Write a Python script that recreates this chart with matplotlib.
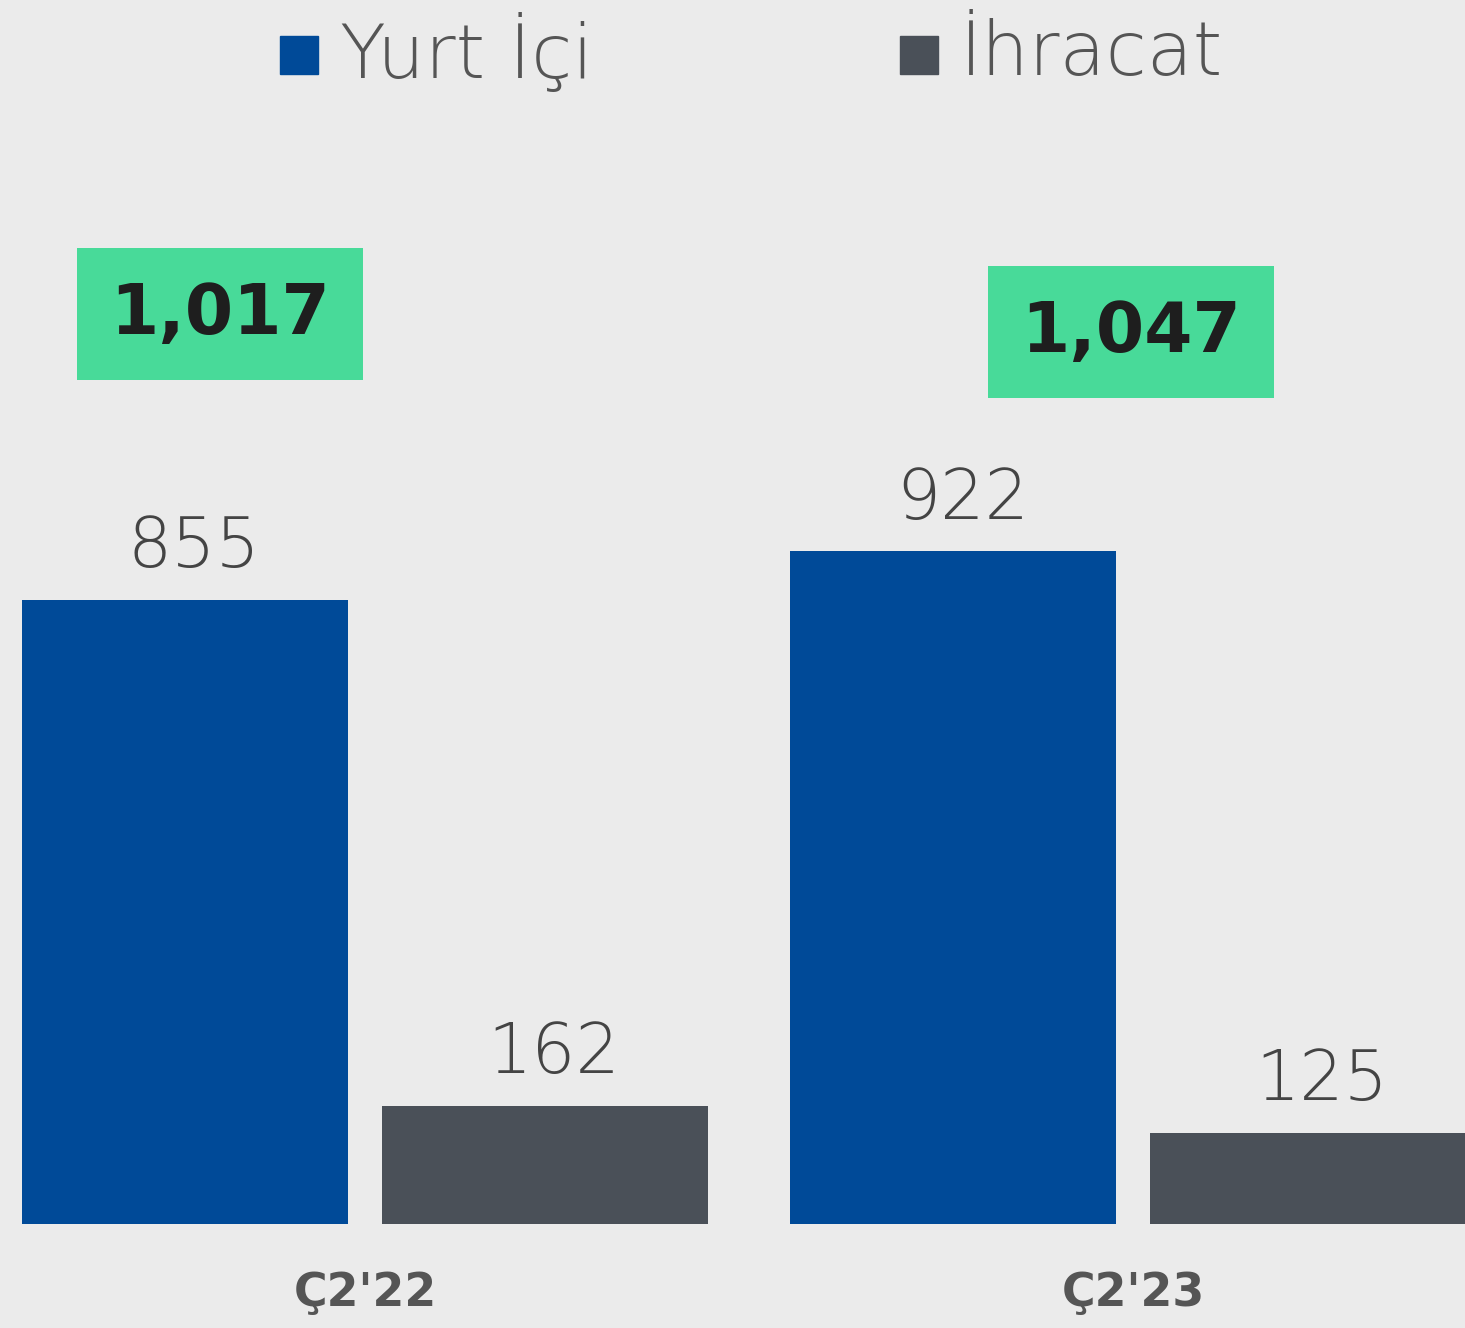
import matplotlib.pyplot as plt
import numpy as np

# Quarterly volumes: domestic (Yurt İçi) vs export (İhracat)
periods = ["Ç2'22", "Ç2'23"]
series_names = ["Yurt İçi", "İhracat"]
domestic = [855, 922]
export = [162, 125]
totals = ["1,017", "1,047"]

colors = ["#004A98", "#4A5058"]
bg = "#EBEBEB"

fig = plt.figure(figsize=(14.65, 13.28), dpi=100)
fig.patch.set_facecolor(bg)
ax = fig.add_axes([0, 0, 1, 1])
ax.set_facecolor(bg)

x = np.arange(len(periods))
width = 0.4245
offset = 0.234

for vals, off, c in zip([domestic, export], [-offset, offset], colors):
    bars = ax.bar(x + off, vals, width, color=c)
    for b, v in zip(bars, vals):
        ax.annotate(str(v), (b.get_x() + b.get_width() / 2, v),
                    xytext=(9, 18), textcoords="offset pixels",
                    ha="center", va="bottom", fontsize=50,
                    color="#444444", family="DejaVu Sans", fontweight="light")

# category labels below the baseline
for xi, p in zip(x, periods):
    ax.annotate(p, (xi, 0), xytext=(0, -70), textcoords="offset pixels",
                ha="center", va="center", fontsize=33, fontweight="bold",
                color="#555555")

# total boxes (positioned in figure pixels)
box_pos = [(220, 314), (1131, 332)]
for (px, py), t in zip(box_pos, totals):
    fig.text(px / 1465, 1 - py / 1328, t, ha="center", va="center",
             fontsize=50, fontweight="bold", color="#1E1E1E",
             bbox=dict(boxstyle="square,pad=0.47", fc="#48DA99", ec="none"))

# legend drawn by hand to match the layout
leg_x = [280, 900]
for lx, name, c in zip(leg_x, series_names, colors):
    fig.patches.append(plt.Rectangle((lx / 1465, 1 - 74 / 1328), 38 / 1465, 38 / 1328,
                                     transform=fig.transFigure, color=c))
    fig.text((lx + 60) / 1465, 1 - 54 / 1328, name, ha="left", va="center",
             fontsize=54, color="#555555", fontweight="light")

ax.set_xlim(-0.4753, 1.432)
ax.set_ylim(-142.5, 1677)
ax.axis("off")

fig.savefig("out.png", dpi=100, facecolor=bg)
